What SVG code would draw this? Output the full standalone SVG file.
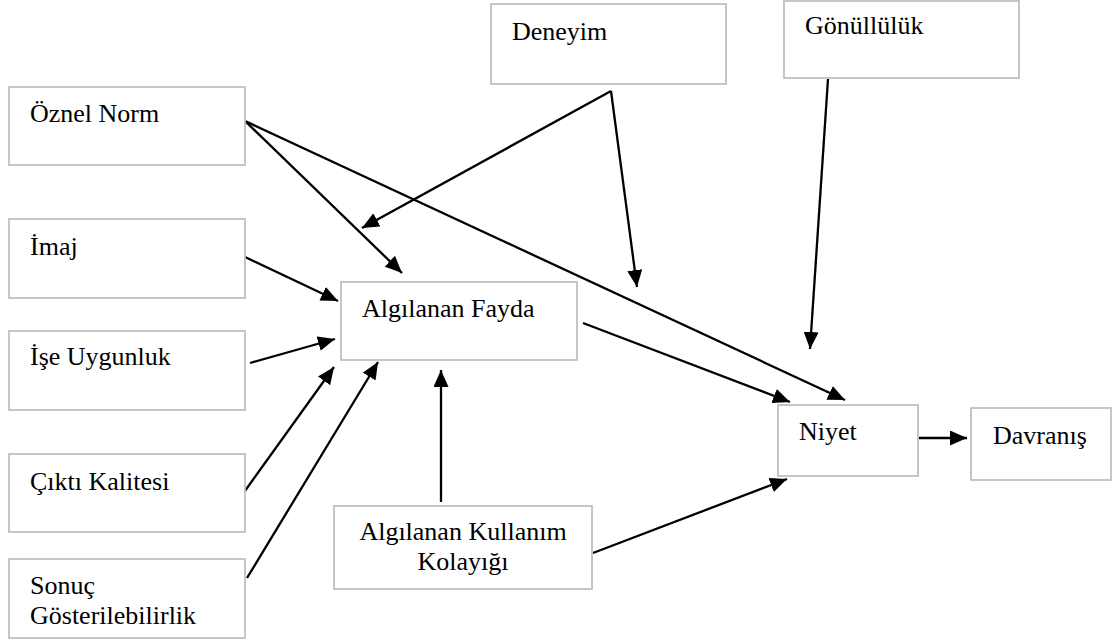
<svg xmlns="http://www.w3.org/2000/svg" width="1117" height="643" viewBox="0 0 1117 643">
  <style>
    .box { fill: #ffffff; stroke: #c0c0c0; stroke-width: 1.8; }
    .lbl { font-family: "Liberation Serif", "Times New Roman", serif; font-size: 26px; fill: #000000; }
    .mid { text-anchor: middle; }
    .edge { stroke: #000000; stroke-width: 2.3; fill: none; marker-end: url(#arrow); }
  </style>
  <defs>
    <marker id="arrow" markerUnits="userSpaceOnUse" markerWidth="18" markerHeight="15" refX="17" refY="7.5" orient="auto">
      <path d="M0,0 L17,7.5 L0,15 Z" fill="#000000"/>
    </marker>
  </defs>

  <rect width="1117" height="643" fill="#ffffff"/>

  <!-- connectors -->
  <g id="connectors">
    <line class="edge" x1="245" y1="121" x2="402" y2="273"/>
    <line class="edge" x1="245" y1="121" x2="845" y2="400"/>
    <line class="edge" x1="611" y1="91" x2="362" y2="228"/>
    <line class="edge" x1="611" y1="91" x2="637" y2="287"/>
    <line class="edge" x1="828" y1="79" x2="810" y2="349"/>
    <line class="edge" x1="245" y1="257" x2="338" y2="301"/>
    <line class="edge" x1="250" y1="363" x2="335" y2="339"/>
    <line class="edge" x1="242" y1="495" x2="334" y2="367"/>
    <line class="edge" x1="247" y1="578" x2="378" y2="362"/>
    <line class="edge" x1="441" y1="502" x2="441" y2="370"/>
    <line class="edge" x1="583" y1="323" x2="790" y2="402"/>
    <line class="edge" x1="593" y1="553" x2="787" y2="479"/>
    <line class="edge" x1="919" y1="438" x2="967" y2="438"/>
  </g>

  <!-- nodes -->
  <g id="oznel-norm">
    <rect class="box" x="9" y="87" width="236" height="78"/>
    <text class="lbl" x="30" y="122">Öznel Norm</text>
  </g>
  <g id="deneyim">
    <rect class="box" x="491" y="4" width="235" height="80"/>
    <text class="lbl" x="512" y="40">Deneyim</text>
  </g>
  <g id="gonulluluk">
    <rect class="box" x="784" y="1" width="235" height="77"/>
    <text class="lbl" x="805" y="34">Gönüllülük</text>
  </g>
  <g id="imaj">
    <rect class="box" x="9" y="219" width="236" height="79"/>
    <text class="lbl" x="30" y="255">İmaj</text>
  </g>
  <g id="ise-uygunluk">
    <rect class="box" x="9" y="331" width="236" height="79"/>
    <text class="lbl" x="30" y="365">İşe Uygunluk</text>
  </g>
  <g id="cikti-kalitesi">
    <rect class="box" x="9" y="454" width="236" height="78"/>
    <text class="lbl" x="30" y="490">Çıktı Kalitesi</text>
  </g>
  <g id="sonuc-gosterilebilirlik">
    <rect class="box" x="9" y="559" width="236" height="79"/>
    <text class="lbl" x="30" y="594">Sonuç</text>
    <text class="lbl" x="30" y="624">Gösterilebilirlik</text>
  </g>
  <g id="algilanan-fayda">
    <rect class="box" x="341" y="282" width="236" height="78"/>
    <text class="lbl" x="362" y="317">Algılanan Fayda</text>
  </g>
  <g id="algilanan-kullanim-kolayigi">
    <rect class="box" x="334" y="506" width="258" height="83"/>
    <text class="lbl mid" x="463" y="540">Algılanan Kullanım</text>
    <text class="lbl mid" x="463" y="570">Kolayığı</text>
  </g>
  <g id="niyet">
    <rect class="box" x="778" y="405" width="140" height="71"/>
    <text class="lbl" x="799" y="440">Niyet</text>
  </g>
  <g id="davranis">
    <rect class="box" x="971" y="408" width="140" height="72"/>
    <text class="lbl" x="993" y="444">Davranış</text>
  </g>
</svg>
